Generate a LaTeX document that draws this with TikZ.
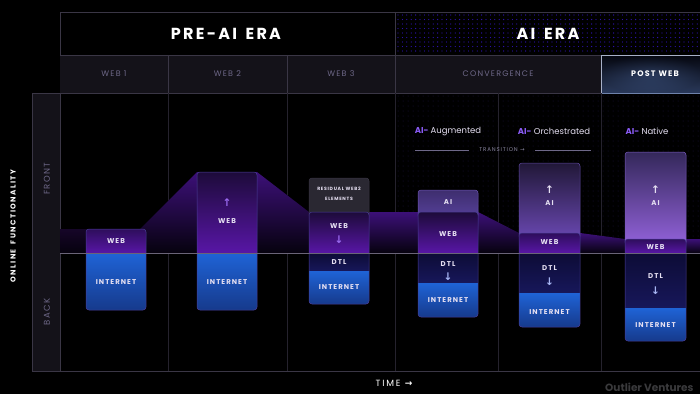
\documentclass[tikz,border=0pt]{standalone}
\usepackage{fontspec}
\setmainfont{Poppins}
\newfontfamily\popls[LetterSpace=15]{Poppins}
\newfontfamily\poplsw[LetterSpace=20]{Poppins}
\newfontfamily\popera[LetterSpace=14]{Poppins}
\newfontfamily\dvs{DejaVu Sans}
\definecolor{frameln}{HTML}{3A3645}
\definecolor{gridln}{HTML}{25222D}
\definecolor{subfill}{HTML}{141219}
\definecolor{subtxt}{HTML}{6E6888}
\definecolor{transtxt}{HTML}{8A86A0}
\definecolor{midln}{HTML}{6A6478}
\definecolor{lbltxt}{HTML}{E6E0F2}
\definecolor{webtop}{HTML}{1D0B3A}
\definecolor{webtopB}{HTML}{2E0E5C}
\definecolor{webbot}{HTML}{5816A6}
\definecolor{nettop}{HTML}{1F63D6}
\definecolor{netbot}{HTML}{163A8C}
\definecolor{dtltop}{HTML}{0D0C36}
\definecolor{dtlbot}{HTML}{17175A}
\definecolor{augtop}{HTML}{3E2E6E}
\definecolor{augbot}{HTML}{56409A}
\definecolor{orchtop}{HTML}{211838}
\definecolor{orchbot}{HTML}{6A48B2}
\definecolor{nattop}{HTML}{34285A}
\definecolor{natbot}{HTML}{9262DA}
\definecolor{bandtop}{HTML}{3C1078}
\definecolor{bandbot}{HTML}{06020E}
\definecolor{bandfaint}{HTML}{160628}
\definecolor{boxln}{HTML}{4B3F9A}
\definecolor{augln}{HTML}{6E55B4}
\definecolor{orchln}{HTML}{5F48A0}
\definecolor{natln}{HTML}{785ABE}
\definecolor{aipurple}{HTML}{8B5CF6}
\definecolor{webarrow}{HTML}{9A6AF0}
\definecolor{dtlarrow}{HTML}{A8B6F4}
\definecolor{dotA}{HTML}{2C12A8}
\definecolor{dotB}{HTML}{1A1240}
\definecolor{resfill}{HTML}{2A2832}
\definecolor{brand}{HTML}{3A3A3C}
\definecolor{postdark}{HTML}{080A16}
\definecolor{postglow}{HTML}{506EAA}
\definecolor{postbd}{HTML}{A8B0C8}
\definecolor{postbdb}{HTML}{6E82AA}
\begin{document}
\begin{tikzpicture}[x=1pt,y=-1pt,
  lbl/.style={font=\popls\bfseries\fontsize{7}{7}\selectfont, text=lbltxt, inner sep=0pt},
  tiny/.style={font=\popls\bfseries\fontsize{4.6}{4.6}\selectfont, text=lbltxt, inner sep=0pt},
  sub/.style={font=\popls\fontsize{8}{8}\selectfont, text=subtxt, inner sep=0pt},
  era/.style={font=\popera\bfseries\fontsize{16}{16}\selectfont, text=white, inner sep=0pt},
  arr/.style={font=\dvs\bfseries\fontsize{10.5}{10.5}\selectfont, inner sep=0pt},
  ailbl/.style={font=\fontsize{8.5}{8.5}\selectfont, text=lbltxt, inner sep=0pt},
  boxline/.style={draw=boxln, line width=0.5pt, rounded corners=3pt},
  band/.style={top color=bandtop, bottom color=bandbot},
  webf/.style={top color=webtop, bottom color=webbot},
  netf/.style={top color=nettop, bottom color=netbot},
  dtlf/.style={top color=dtltop, bottom color=dtlbot}]
\fill[black] (0,0) rectangle (700,394);
\useasboundingbox (0,0) rectangle (700,394);

% dot textures
\foreach \xx in {398,402.4,...,698} {
  \foreach \yy in {15,19.5,...,53} {
    \fill[dotA] (\xx,\yy) circle (0.65pt);
  }
}
\foreach \xx in {398,403,...,698} {
  \foreach \yy in {96,101,...,246} {
    \fill[dotB] (\xx,\yy) circle (0.5pt);
  }
}

% header frames
\draw[frameln, line width=0.6pt] (60,12) -- (700,12);
\draw[frameln, line width=0.6pt] (60,12) -- (60,93);
\draw[frameln, line width=0.6pt] (395,12) -- (395,55);
\fill[subfill] (60,55) rectangle (700,93);
\draw[frameln, line width=0.6pt] (60,55) -- (700,55);
\draw[frameln, line width=0.6pt] (60,93) -- (700,93);
\foreach \xx in {168,287,395,601} {
  \draw[frameln, line width=0.6pt] (\xx,55) -- (\xx,93);
}
\fill[postdark] (601,55) rectangle (700,93);
\shade[inner color=postglow, outer color=postdark] (601,55) rectangle (700,93);
\fill[top color=postdark, bottom color=postglow, opacity=0.5] (601,55) rectangle (700,93);
\draw[postbd, line width=0.7pt] (601,93) -- (601,55) -- (700,55);
\draw[postbdb, line width=0.7pt] (601,93) -- (700,93);

% left axis box and grid
\fill[subfill] (32,93) rectangle (60,371);
\draw[frameln, line width=0.6pt] (32,371) -- (32,93) -- (60,93) -- (60,371);
\foreach \xx in {168,287,395,498,601} {
  \draw[gridln, line width=0.6pt] (\xx,93) -- (\xx,371);
}
\draw[frameln, line width=0.6pt] (32,371) -- (700,371);

% purple band
\fill[top color=bandfaint, bottom color=bandbot] (60,229) rectangle (90,253);
\fill[band] (140,229) -- (197,172) -- (200,172) -- (200,253) -- (140,253) -- cycle;
\fill[band] (254,172) -- (257,172) -- (309,212) -- (312,212) -- (312,253) -- (254,253) -- cycle;
\fill[band] (366,212) -- (421,212) -- (421,253) -- (366,253) -- cycle;
\fill[band] (475,212) -- (478,212) -- (519,233) -- (522,233) -- (522,253) -- (475,253) -- cycle;
\fill[band] (577,233) -- (580,233) -- (625,239) -- (628,239) -- (628,253) -- (577,253) -- cycle;
\fill[band] (683,239) -- (700,239) -- (700,253) -- (683,253) -- cycle;

% Web1 stack
\begin{scope}
\clip[rounded corners=3pt] (86,229) rectangle (146,310);
\fill[top color=webtopB, bottom color=webbot] (86,229) rectangle (146,253);
\fill[netf] (86,253) rectangle (146,310);
\end{scope}
\draw[boxline] (86,229) rectangle (146,310);

% Web2 stack
\begin{scope}
\clip[rounded corners=3pt] (197,172) rectangle (257,310);
\fill[webf] (197,172) rectangle (257,253);
\fill[netf] (197,253) rectangle (257,310);
\end{scope}
\draw[boxline] (197,172) rectangle (257,310);

% Web3 stack
\fill[resfill, draw=frameln, line width=0.5pt, rounded corners=3pt] (309,178) rectangle (369,218);
\begin{scope}
\clip[rounded corners=3pt] (309,212) rectangle (369,304);
\fill[webf] (309,212) rectangle (369,253);
\fill[dtlf] (309,253) rectangle (369,271);
\fill[netf] (309,271) rectangle (369,304);
\end{scope}
\draw[boxline] (309,212) rectangle (369,304);

% AI-Augmented stack
\fill[top color=augtop, bottom color=augbot, rounded corners=3pt] (418,190) rectangle (478,218);
\draw[augln, line width=0.5pt, rounded corners=3pt] (418,190) rectangle (478,218);
\begin{scope}
\clip[rounded corners=3pt] (418,212) rectangle (478,317);
\fill[webf] (418,212) rectangle (478,253);
\fill[dtlf] (418,253) rectangle (478,283);
\fill[netf] (418,283) rectangle (478,317);
\end{scope}
\draw[boxline] (418,212) rectangle (478,317);

% AI-Orchestrated stack
\fill[top color=orchtop, bottom color=orchbot, rounded corners=3pt] (519,163) rectangle (580,239);
\draw[orchln, line width=0.5pt, rounded corners=3pt] (519,163) rectangle (580,239);
\begin{scope}
\clip[rounded corners=3pt] (519,233) rectangle (580,327);
\fill[top color=webtopB, bottom color=webbot] (519,233) rectangle (580,253);
\fill[dtlf] (519,253) rectangle (580,293);
\fill[netf] (519,293) rectangle (580,327);
\end{scope}
\draw[boxline] (519,233) rectangle (580,327);

% AI-Native stack
\fill[top color=nattop, bottom color=natbot, rounded corners=3pt] (625,152) rectangle (686,245);
\draw[natln, line width=0.5pt, rounded corners=3pt] (625,152) rectangle (686,245);
\begin{scope}
\clip[rounded corners=3pt] (625,239) rectangle (686,341);
\fill[top color=webtopB, bottom color=webbot] (625,239) rectangle (686,253);
\fill[dtlf] (625,253) rectangle (686,308);
\fill[netf] (625,308) rectangle (686,341);
\end{scope}
\draw[boxline] (625,239) rectangle (686,341);

% midline
\draw[midln, line width=0.6pt] (60,253) -- (700,253);

% transition lines
\coordinate (t1a) at (415,150);
\coordinate (t1b) at (469,150);
\coordinate (t2a) at (535,150);
\coordinate (t2b) at (591,150);
\draw[subtxt, line width=0.6pt] (t1a) -- (t1b);
\draw[subtxt, line width=0.6pt] (t2a) -- (t2b);

% header texts
\node[era] (preai) at (226,34) {PRE-AI\hspace{3pt} ERA};
\node[era] (aiera) at (548,34) {AI\hspace{3pt} ERA};
\node[sub] (w1) at (114,74) {WEB 1};
\node[sub] (w2) at (227.5,74) {WEB 2};
\node[sub] (w3) at (341,74) {WEB 3};
\node[sub] (conv) at (498,74) {CONVERGENCE};
\node[font=\popls\bfseries\fontsize{8}{8}\selectfont, text=white, inner sep=0pt] (post) at (655,74) {POST WEB};

% axis texts
\node[font=\poplsw\bfseries\fontsize{7.2}{7.2}\selectfont, text=white, rotate=90, inner sep=0pt] (online) at (13,226) {ONLINE\hspace{2pt} FUNCTIONALITY};
\node[font=\popls\fontsize{8.5}{8.5}\selectfont, text=subtxt, rotate=90, inner sep=0pt] (front) at (47,179) {FRONT};
\node[font=\popls\fontsize{8.5}{8.5}\selectfont, text=subtxt, rotate=90, inner sep=0pt] (back) at (47,312) {BACK};

% Web1 labels
\node[lbl] (w1web) at (116,241) {WEB};
\node[lbl] (w1net) at (116,282) {INTERNET};
% Web2 labels
\node[arr, text=webarrow] (w2up) at (227,203) {↑};
\node[lbl] (w2web) at (227,221) {WEB};
\node[lbl] (w2net) at (227,282) {INTERNET};
% Web3 labels
\node[tiny] (res1) at (339,189) {RESIDUAL WEB2};
\node[tiny] (res2) at (339,199) {ELEMENTS};
\node[lbl] (w3web) at (339,226) {WEB};
\node[arr, text=webarrow] (w3dn) at (339,240) {↓};
\node[lbl] (w3dtl) at (339,262) {DTL};
\node[lbl] (w3net) at (339,287) {INTERNET};
% Augmented labels
\node[ailbl] (auglbl) at (448,131) {{\bfseries\color{aipurple}AI-} Augmented};
\node[lbl] (augai) at (448,202) {AI};
\node[lbl] (augweb) at (448,234) {WEB};
\node[lbl] (augdtl) at (448,264) {DTL};
\node[arr, text=dtlarrow] (augdn) at (448,277) {↓};
\node[lbl] (augnet) at (448,300) {INTERNET};
% Orchestrated labels
\node[ailbl] (orchlbl) at (554,131) {{\bfseries\color{aipurple}AI-} Orchestrated};
\node[arr, text=lbltxt] (orchup) at (549.5,190) {↑};
\node[lbl] (orchai) at (549.5,203) {AI};
\node[lbl] (orchweb) at (549.5,242) {WEB};
\node[lbl] (orchdtl) at (549.5,268) {DTL};
\node[arr, text=dtlarrow] (orchdn) at (549.5,282) {↓};
\node[lbl] (orchnet) at (549.5,312) {INTERNET};
% Native labels
\node[ailbl] (natlbl) at (647,131) {{\bfseries\color{aipurple}AI-} Native};
\node[arr, text=lbltxt] (natup) at (655.5,190) {↑};
\node[lbl] (natai) at (655.5,203) {AI};
\node[lbl] (natweb) at (655.5,247) {WEB};
\node[lbl] (natdtl) at (655.5,276) {DTL};
\node[arr, text=dtlarrow] (natdn) at (655.5,291) {↓};
\node[lbl] (natnet) at (655.5,325) {INTERNET};

% transition label
\node[font=\popls\fontsize{5.5}{5.5}\selectfont, text=transtxt, inner sep=0pt] (trans) at (502,150) {TRANSITION {\dvs →}};

% bottom texts
\node[font=\poplsw\fontsize{9}{9}\selectfont, text=white, inner sep=0pt] (time) at (394,383.5) {TIME {\dvs\bfseries →}};
\node[font=\bfseries\fontsize{10.5}{10.5}\selectfont, text=brand, anchor=west, inner sep=0pt] (brand) at (605,387) {Outlier Ventures};
\end{tikzpicture}
\end{document}
